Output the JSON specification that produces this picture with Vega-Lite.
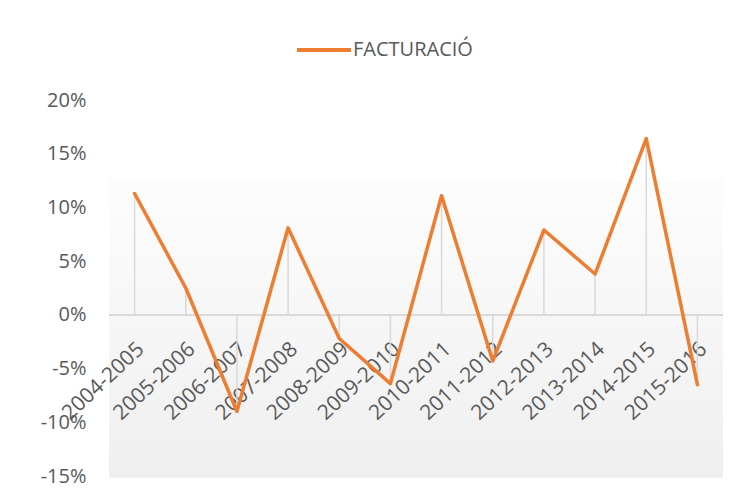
{
  "$schema": "https://vega.github.io/schema/vega-lite/v6.json",
  "autosize": "none",
  "width": 614,
  "height": 300,
  "padding": {"left": 109, "top": 178, "right": 33, "bottom": 23},
  "background": "#ffffff",
  "config": {
    "font": "Open Sans",
    "view": {
      "stroke": null,
      "fill": {"gradient": "linear", "x1": 0, "y1": 0, "x2": 0, "y2": 1, "stops": [{"offset": 0, "color": "#fdfdfd"}, {"offset": 1, "color": "#efefef"}]}
    }
  },
  "data": {
    "values": [
      {"periode": "2004-2005", "valor": 0.113, "serie": "FACTURACIÓ"},
      {"periode": "2005-2006", "valor": 0.025, "serie": "FACTURACIÓ"},
      {"periode": "2006-2007", "valor": -0.090, "serie": "FACTURACIÓ"},
      {"periode": "2007-2008", "valor": 0.081, "serie": "FACTURACIÓ"},
      {"periode": "2008-2009", "valor": -0.022, "serie": "FACTURACIÓ"},
      {"periode": "2009-2010", "valor": -0.064, "serie": "FACTURACIÓ"},
      {"periode": "2010-2011", "valor": 0.111, "serie": "FACTURACIÓ"},
      {"periode": "2011-2012", "valor": -0.043, "serie": "FACTURACIÓ"},
      {"periode": "2012-2013", "valor": 0.079, "serie": "FACTURACIÓ"},
      {"periode": "2013-2014", "valor": 0.038, "serie": "FACTURACIÓ"},
      {"periode": "2014-2015", "valor": 0.164, "serie": "FACTURACIÓ"},
      {"periode": "2015-2016", "valor": -0.065, "serie": "FACTURACIÓ"}
    ]
  },
  "encoding": {
    "x": {
      "field": "periode", "type": "ordinal",
      "scale": {"type": "point", "padding": 0.5},
      "axis": {
        "title": null, "domain": false, "ticks": false, "offset": -163,
        "labelAngle": -43, "labelAlign": "right", "labelBaseline": "middle",
        "labelPadding": 31, "labelOffset": 6, "labelFontSize": 21, "labelColor": "#595959",
        "labelFont": "Open Sans", "labelOverlap": false
      }
    },
    "y": {
      "field": "valor", "type": "quantitative",
      "scale": {"domain": [-0.15, 0.2], "range": [298, -78], "nice": false, "zero": false},
      "axis": {
        "title": null, "domain": false, "ticks": false, "grid": false,
        "values": [-0.15, -0.1, -0.05, 0, 0.05, 0.1, 0.15, 0.2],
        "labelExpr": "replace(format(datum.value, '.0%'), '\u2212', '-')",
        "labelPadding": 23, "labelFontSize": 20, "labelColor": "#595959",
        "labelFont": "Open Sans"
      }
    }
  },
  "layer": [
    {
      "mark": {"type": "rule", "color": "#d9d9d9", "strokeWidth": 1.5},
      "encoding": {"y": {"datum": 0}, "x": null}
    },
    {
      "mark": {"type": "rule", "color": "#d9d9d9", "strokeWidth": 1.5},
      "encoding": {"y2": {"datum": 0}}
    },
    {
      "mark": {"type": "line", "strokeWidth": 3.5, "strokeJoin": "round", "strokeCap": "round"},
      "encoding": {
        "color": {
          "field": "serie", "type": "nominal",
          "scale": {"range": ["#ED7D31"]},
          "legend": {
            "title": null, "orient": "none", "legendX": 186, "legendY": -157,
            "symbolType": "stroke", "symbolSize": 2916, "symbolStrokeWidth": 4,
            "labelFontSize": 20, "labelColor": "#595959", "labelFont": "Open Sans",
            "labelOffset": 0, "padding": 0
          }
        }
      }
    }
  ]
}
